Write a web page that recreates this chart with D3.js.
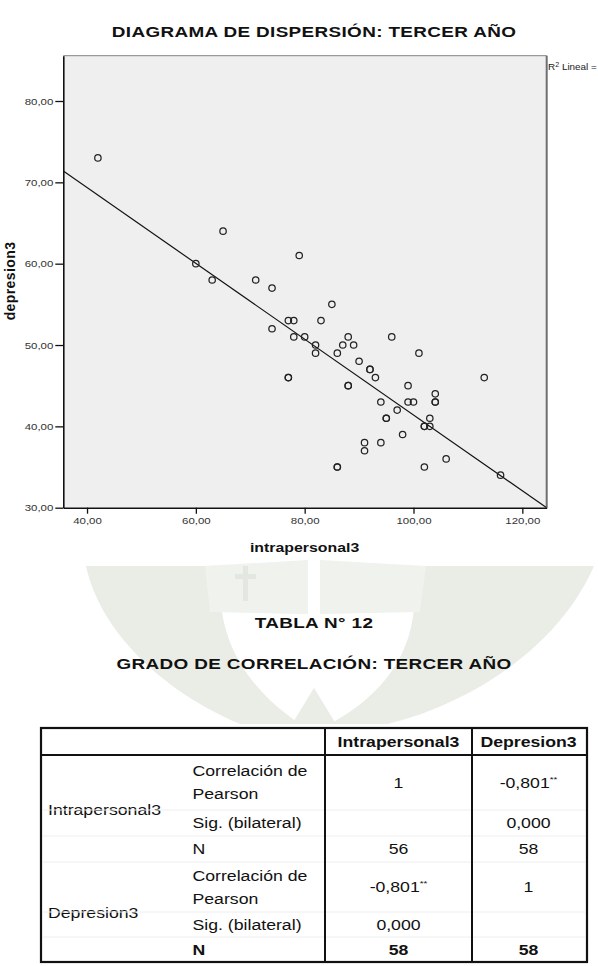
<!DOCTYPE html>
<html>
<head>
<meta charset="utf-8">
<script src="https://cdn.jsdelivr.net/npm/d3@7"></script>
<style>
  body { margin: 0; background: #fff; }
  svg { display: block; font-family: 'Liberation Sans', Arial, sans-serif; }
</style>
</head>
<body>
<script>
'use strict'

// scatter values (bold circles = repeated points)
const intrapersonal3 = [42, 60, 63, 65, 71, 74, 74, 77, 78, 78, 77, 77, 79, 80, 82, 82, 83, 85, 86, 87, 88, 89, 88, 88, 90, 92, 92, 93, 96, 101, 99, 94, 99, 100, 104, 104, 104, 97, 95, 95, 103, 102, 102, 103, 98, 91, 91, 94, 106, 86, 86, 102, 116, 113]
const depresion3 = [73, 60, 58, 64, 58, 57, 52, 53, 53, 51, 46, 46, 61, 51, 50, 49, 53, 55, 49, 50, 51, 50, 45, 45, 48, 47, 47, 46, 51, 49, 45, 43, 43, 43, 44, 43, 43, 42, 41, 41, 41, 40, 40, 40, 39, 38, 37, 38, 36, 35, 35, 35, 34, 46]

const xTicks = [40, 60, 80, 100, 120],
    yTicks = [30, 40, 50, 60, 70, 80],
    xDomain = [35.64, 124.48],
    yDomain = [30, 85.57]

// fitted line (Lineal) as shown
const fitIntercept = 88.0,
    fitSlope = -0.466

// correlation table
const tableHeader = ['Intrapersonal3', 'Depresion3']
const tableVariables = ['Intrapersonal3', 'Depresion3']
const statLabels = [['Correlación de', 'Pearson'], ['Sig. (bilateral)'], ['N']]
const tableValues = [
    [['1', '-0,801**'], ['', '0,000'], ['56', '58']],
    [['-0,801**', '1'], ['0,000', ''], ['58', '58']]
]

const width = 598,
    height = 966,
    sx = 1.22,
    comma = d => d3.format('.2f')(d).replace('.', ',')

const svg = d3.select('body').append('svg')
    .attr('width', width)
    .attr('height', height)

// faint seal watermark behind the table titles
const mark = svg.append('g').attr('fill', '#e9ede6')
mark.append('path').attr('d', 'M86 566 C100 630 160 690 240 724 L300 724 C250 690 212 640 222 566 Z')
mark.append('path').attr('d', 'M594 566 C562 640 482 700 388 724 L330 724 C392 690 424 640 412 566 Z')
mark.append('path').attr('d', 'M292 724 L314 688 L336 724 Z')
mark.append('path').attr('d', 'M205 566 L308 560 L308 614 L210 612 Z').attr('fill', '#eff2ed')
mark.append('path').attr('d', 'M320 560 L426 566 L420 612 L320 614 Z').attr('fill', '#eff2ed')
mark.append('path').attr('d', 'M243 566 h5 v8 h8 v5 h-8 v22 h-5 v-22 h-8 v-5 h8 Z').attr('fill', '#e2e8df')

const stretched = (sel, x, y) => sel.attr('transform', `translate(${x},${y}) scale(${sx},1)`)

const title = (txt, x, y) => stretched(svg.append('text'), x, y)
    .attr('text-anchor', 'middle')
    .attr('font-weight', 'bold')
    .attr('font-size', 15.5)
    .attr('letter-spacing', 0.3)
    .attr('fill', '#111')
    .text(txt)

title('DIAGRAMA DE DISPERSIÓN: TERCER AÑO', 314, 36.5)

// ---- scatter plot
const x = d3.scaleLinear().domain(xDomain).range([63.3, 546.7]),
    y = d3.scaleLinear().domain(yDomain).range([507.7, 55.7])

const plot = svg.append('g')

plot.append('clipPath').attr('id', 'plot-clip')
    .append('rect')
    .attr('x', x.range()[0]).attr('y', y.range()[1])
    .attr('width', x.range()[1] - x.range()[0])
    .attr('height', y.range()[0] - y.range()[1])

plot.append('rect')
    .attr('x', x.range()[0]).attr('y', y.range()[1])
    .attr('width', x.range()[1] - x.range()[0])
    .attr('height', y.range()[0] - y.range()[1])
    .attr('fill', '#efefef')

// frame: top and right edges
plot.append('path')
    .attr('d', `M${x.range()[0]},${y.range()[1]}H${x.range()[1]}`)
    .attr('stroke', '#9a9a9a').attr('stroke-width', 1.2)
plot.append('path')
    .attr('d', `M${x.range()[1]},${y.range()[1]}V${y.range()[0]}`)
    .attr('stroke', '#6f6f6f').attr('stroke-width', 2)

const fit = d3.line()
    .x(d => x(d))
    .y(d => y(fitIntercept + fitSlope * d))

plot.append('path')
    .datum(xDomain)
    .attr('clip-path', 'url(#plot-clip)')
    .attr('d', fit)
    .attr('fill', 'none')
    .attr('stroke', '#111')
    .attr('stroke-width', 1.2)

plot.selectAll('circle.pt')
    .data(d3.zip(intrapersonal3, depresion3))
    .join('circle')
    .attr('class', 'pt')
    .attr('cx', d => x(d[0]))
    .attr('cy', d => y(d[1]))
    .attr('r', 3.2)
    .attr('fill', 'none')
    .attr('stroke', '#222')
    .attr('stroke-width', 1.25)

const xAxis = plot.append('g')
    .attr('transform', `translate(0,${y.range()[0]})`)
    .call(d3.axisBottom(x).tickValues(xTicks).tickFormat(comma).tickSize(6).tickPadding(4).tickSizeOuter(0))

const yAxis = plot.append('g')
    .attr('transform', `translate(${x.range()[0]},0)`)
    .call(d3.axisLeft(y).tickValues(yTicks).tickFormat(comma).tickSize(8).tickPadding(2).tickSizeOuter(0))

;[xAxis, yAxis].forEach(ax => {
    ax.select('.domain').attr('stroke', '#111').attr('stroke-width', 1.6)
    ax.selectAll('.tick line').attr('stroke', '#111').attr('stroke-width', 1.3)
    ax.selectAll('.tick text')
        .attr('font-family', "'Liberation Sans', Arial, sans-serif")
        .attr('font-size', 9.4)
        .attr('fill', '#333')
})
xAxis.selectAll('.tick text').attr('transform', `scale(${sx},1)`)
yAxis.selectAll('.tick text').attr('transform', `scale(${sx},1)`).attr('x', -10 / sx)

stretched(svg.append('text'), 304.6, 551.5)
    .attr('text-anchor', 'middle')
    .attr('font-weight', 'bold')
    .attr('font-size', 13)
    .attr('fill', '#111')
    .text('intrapersonal3')

svg.append('text')
    .attr('transform', 'translate(14.5,281) rotate(-90)')
    .attr('text-anchor', 'middle')
    .attr('font-weight', 'bold')
    .attr('font-size', 14)
    .attr('letter-spacing', 0.4)
    .attr('fill', '#111')
    .text('depresion3')

// legend label, kept inside the page edge
const r2 = svg.append('text')
    .attr('transform', 'translate(548,70) scale(1.1,1)')
    .attr('font-size', 9)
    .attr('fill', '#222')
r2.append('tspan').text('R')
r2.append('tspan').attr('font-size', 6.5).attr('dy', -3.5).text('2')
r2.append('tspan').attr('dy', 3.5).text(' Lineal =')

// ---- table titles
title('TABLA N° 12', 314, 627.5)
title('GRADO DE CORRELACIÓN: TERCER AÑO', 314, 668.5)

// ---- correlation table
const colX = [41, 325, 472, 587],
    labelX = [48, 192.5],
    headerTop = 728,
    headerBottom = 755,
    rowHeights = [[55, 26, 26], [50, 25, 25]],
    colCenter = [(colX[1] + colX[2]) / 2, (colX[2] + colX[3]) / 2 - 1],
    tFont = 14.5

const table = svg.append('g')

table.append('rect')
    .attr('x', colX[0]).attr('y', headerTop)
    .attr('width', colX[3] - colX[0]).attr('height', 234)
    .attr('fill', '#fff')

const cellText = (txt, x0, y0, opts = {}) => {
    const t = stretched(table.append('text'), x0, y0)
        .attr('text-anchor', opts.anchor || 'start')
        .attr('font-size', tFont)
        .attr('font-weight', opts.bold ? 'bold' : 'normal')
        .attr('fill', '#111')
    const stars = txt.endsWith('**')
    t.append('tspan').text(stars ? txt.slice(0, -2) : txt)
    if (stars) t.append('tspan').attr('font-size', 8).attr('dy', -6).text('**')
    return t
}

tableHeader.forEach((h, i) => cellText(h, colCenter[i], headerBottom - 8.5, { anchor: 'middle', bold: true }))

let rowTop = headerBottom
const rowLines = []
tableVariables.forEach((v, vi) => {
    const blockTop = rowTop
    statLabels.forEach((lab, si) => {
        const h = rowHeights[vi][si],
            mid = rowTop + h / 2,
            isLast = vi === tableVariables.length - 1 && si === statLabels.length - 1
        lab.forEach((line, li) => {
            const off = (li - (lab.length - 1) / 2) * 23
            cellText(line, labelX[1], mid + off + 5.2, { bold: isLast })
        })
        tableValues[vi][si].forEach((val, ci) => {
            if (val) cellText(val, colCenter[ci], mid + 5.2, { anchor: 'middle', bold: isLast })
        })
        rowTop += h
        if (!isLast) rowLines.push(rowTop)
    })
    cellText(v, labelX[0], (blockTop + rowTop) / 2 + 6)
})

// faint row separators, then the heavy grid
table.selectAll('line.row')
    .data(rowLines)
    .join('line')
    .attr('class', 'row')
    .attr('x1', colX[0] + 2).attr('x2', colX[3] - 2)
    .attr('y1', d => d).attr('y2', d => d)
    .attr('stroke', '#eeeeee')
    .attr('stroke-width', 1)

table.append('rect')
    .attr('x', colX[0]).attr('y', headerTop)
    .attr('width', colX[3] - colX[0]).attr('height', rowTop - headerTop)
    .attr('fill', 'none')
    .attr('stroke', '#111')
    .attr('stroke-width', 2.2)

table.append('line')
    .attr('x1', colX[0]).attr('x2', colX[3])
    .attr('y1', headerBottom).attr('y2', headerBottom)
    .attr('stroke', '#111').attr('stroke-width', 2)

table.selectAll('line.col')
    .data(colX.slice(1, 3))
    .join('line')
    .attr('class', 'col')
    .attr('x1', d => d).attr('x2', d => d)
    .attr('y1', headerTop).attr('y2', rowTop)
    .attr('stroke', '#111')
    .attr('stroke-width', 2)
</script>
</body>
</html>
